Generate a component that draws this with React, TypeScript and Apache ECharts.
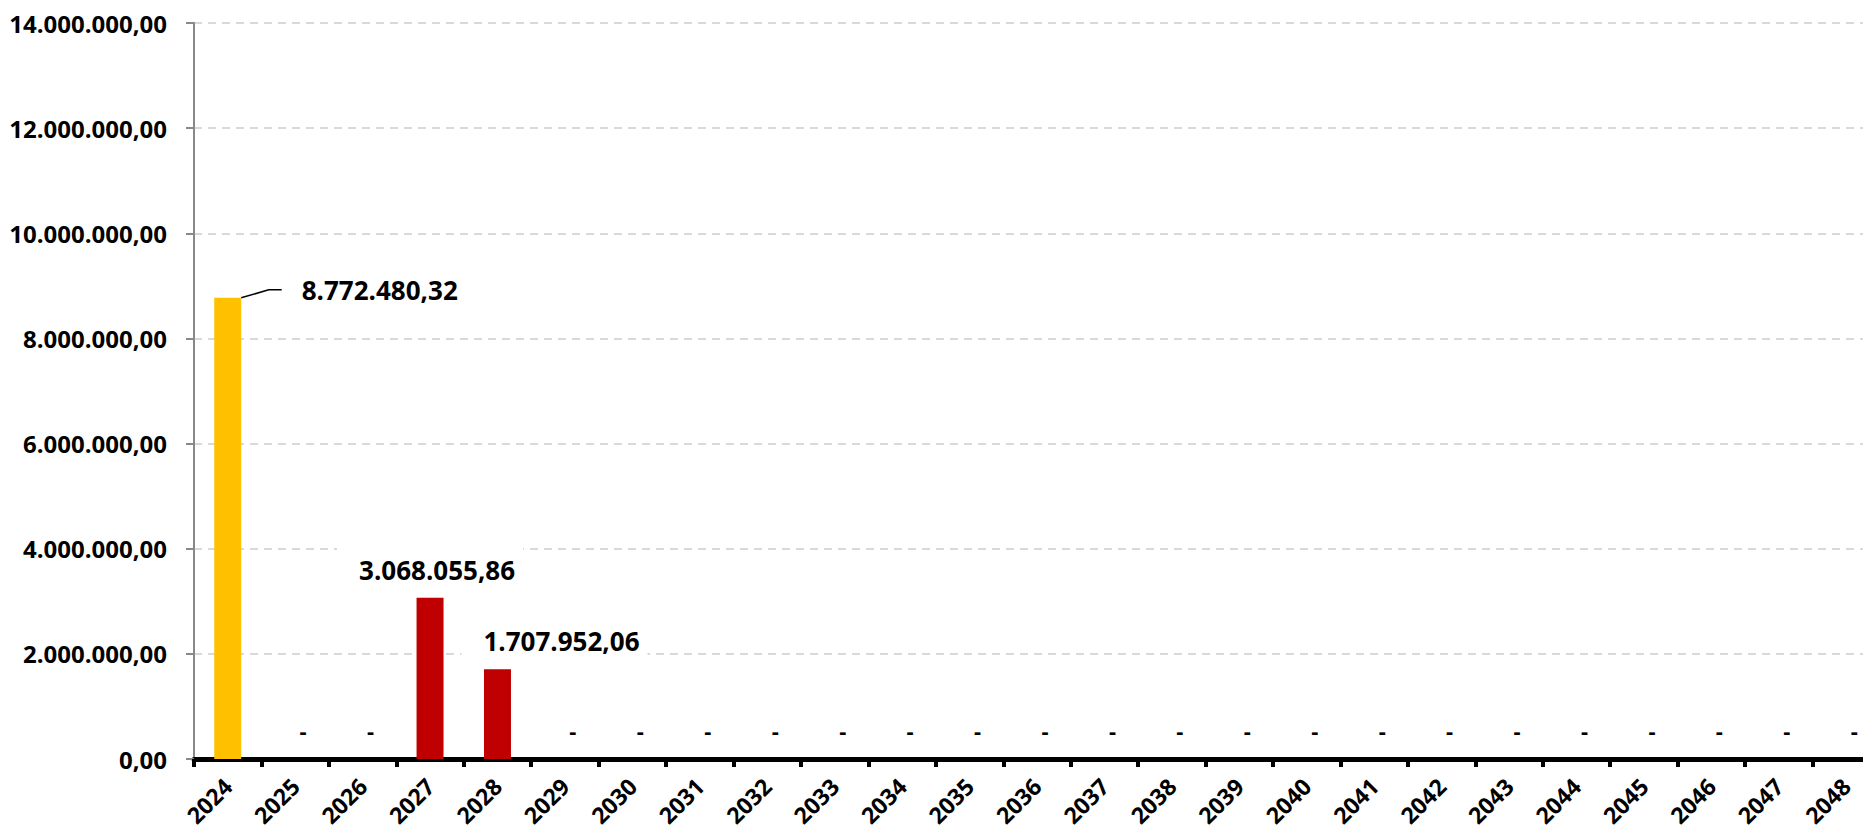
import React, { useEffect, useRef } from "react";
import * as echarts from "echarts";

const years = [
  "2024", "2025", "2026", "2027", "2028", "2029", "2030", "2031", "2032",
  "2033", "2034", "2035", "2036", "2037", "2038", "2039", "2040", "2041",
  "2042", "2043", "2044", "2045", "2046", "2047", "2048",
];
const values = [
  8772480.32, 0, 0, 3068055.86, 1707952.06, 0, 0, 0, 0,
  0, 0, 0, 0, 0, 0, 0, 0, 0,
  0, 0, 0, 0, 0, 0, 0,
];
const yTicks = { min: 0, max: 14000000, interval: 2000000 };

const YELLOW = "#FFC000";
const RED = "#C00000";
const FONT = "Open Sans";

function fmtBR(v: number): string {
  const neg = v < 0;
  const s = Math.abs(v).toFixed(2);
  const [ip, dp] = s.split(".");
  const withDots = ip.replace(/\B(?=(\d{3})+(?!\d))/g, ".");
  return (neg ? "-" : "") + withDots + "," + dp;
}

export default function App() {
  const ref = useRef<HTMLDivElement>(null);
  useEffect(() => {
    if (!ref.current) return;
    const chart = echarts.init(ref.current, null, { renderer: "svg" });
    const data = values.map((v, i) => {
      const item: any = {
        value: v,
        itemStyle: { color: i === 0 ? YELLOW : RED },
      };
      if (v === 0) {
        item.label = { fontSize: 22, lineHeight: 22 };
      } else if (i === 0) {
        item.label = { padding: [0, 0, 0, 20] };
        item.labelLine = {
          show: true,
          length2: 13,
          lineStyle: { color: "#000", width: 1.5 },
        };
      } else {
        item.label = {
          backgroundColor: "#fff",
          padding: [12, 8, 8, 22],
        };
      }
      return item;
    });
    chart.setOption({
      animation: false,
      backgroundColor: "#fff",
      grid: {
        left: 194,
        top: 23,
        right: -17,
        bottom: 74,
        containLabel: false,
        outerBoundsMode: "none",
      },
      xAxis: {
        type: "category",
        data: years,
        boundaryGap: true,
        axisLine: { show: true, lineStyle: { color: "#000", width: 5 } },
        axisTick: {
          show: true,
          alignWithLabel: false,
          interval: 0,
          length: 8,
          lineStyle: { color: "#000", width: 4 },
        },
        axisLabel: {
          interval: 0,
          rotate: 45,
          margin: 23,
          fontFamily: FONT,
          fontWeight: "bold",
          fontSize: 23,
          color: "#000",
          hideOverlap: false,
        },
        splitLine: { show: false },
      },
      yAxis: {
        type: "value",
        min: yTicks.min,
        max: yTicks.max,
        interval: yTicks.interval,
        axisLine: { show: true, lineStyle: { color: "#898989", width: 2 } },
        axisTick: { show: true, length: 8, lineStyle: { color: "#898989", width: 2 } },
        axisLabel: {
          margin: 27,
          fontFamily: FONT,
          fontWeight: "bold",
          fontSize: 24,
          color: "#000",
          formatter: (v: number) => fmtBR(v),
        },
        splitLine: {
          show: true,
          lineStyle: { color: "#d9d9d9", width: 2, type: [8, 6] },
        },
      },
      series: [
        {
          type: "bar",
          data,
          barWidth: "40%",
          label: {
            show: true,
            position: "top",
            distance: 5,
            fontFamily: FONT,
            fontWeight: "bold",
            fontSize: 26,
            lineHeight: 30,
            color: "#000",
            formatter: (p: any) => (p.value === 0 ? "-" : fmtBR(p.value)),
          },
          labelLayout: (p: any) => {
            const i = p.dataIndex;
            if (i === 0) return { dx: 142, dy: 12 };
            if (values[i] === 0) return { dx: 8, dy: -13 };
            if (i === 3) return { dx: 0, dy: 0 };
            if (i === 4) return { dx: 57, dy: 0 };
            return {};
          },
        },
      ],
    });
    return () => chart.dispose();
  }, []);
  return (
    <div
      ref={ref}
      style={{ position: "fixed", left: 0, top: 0, width: 1863, height: 833, background: "#fff" }}
    />
  );
}
